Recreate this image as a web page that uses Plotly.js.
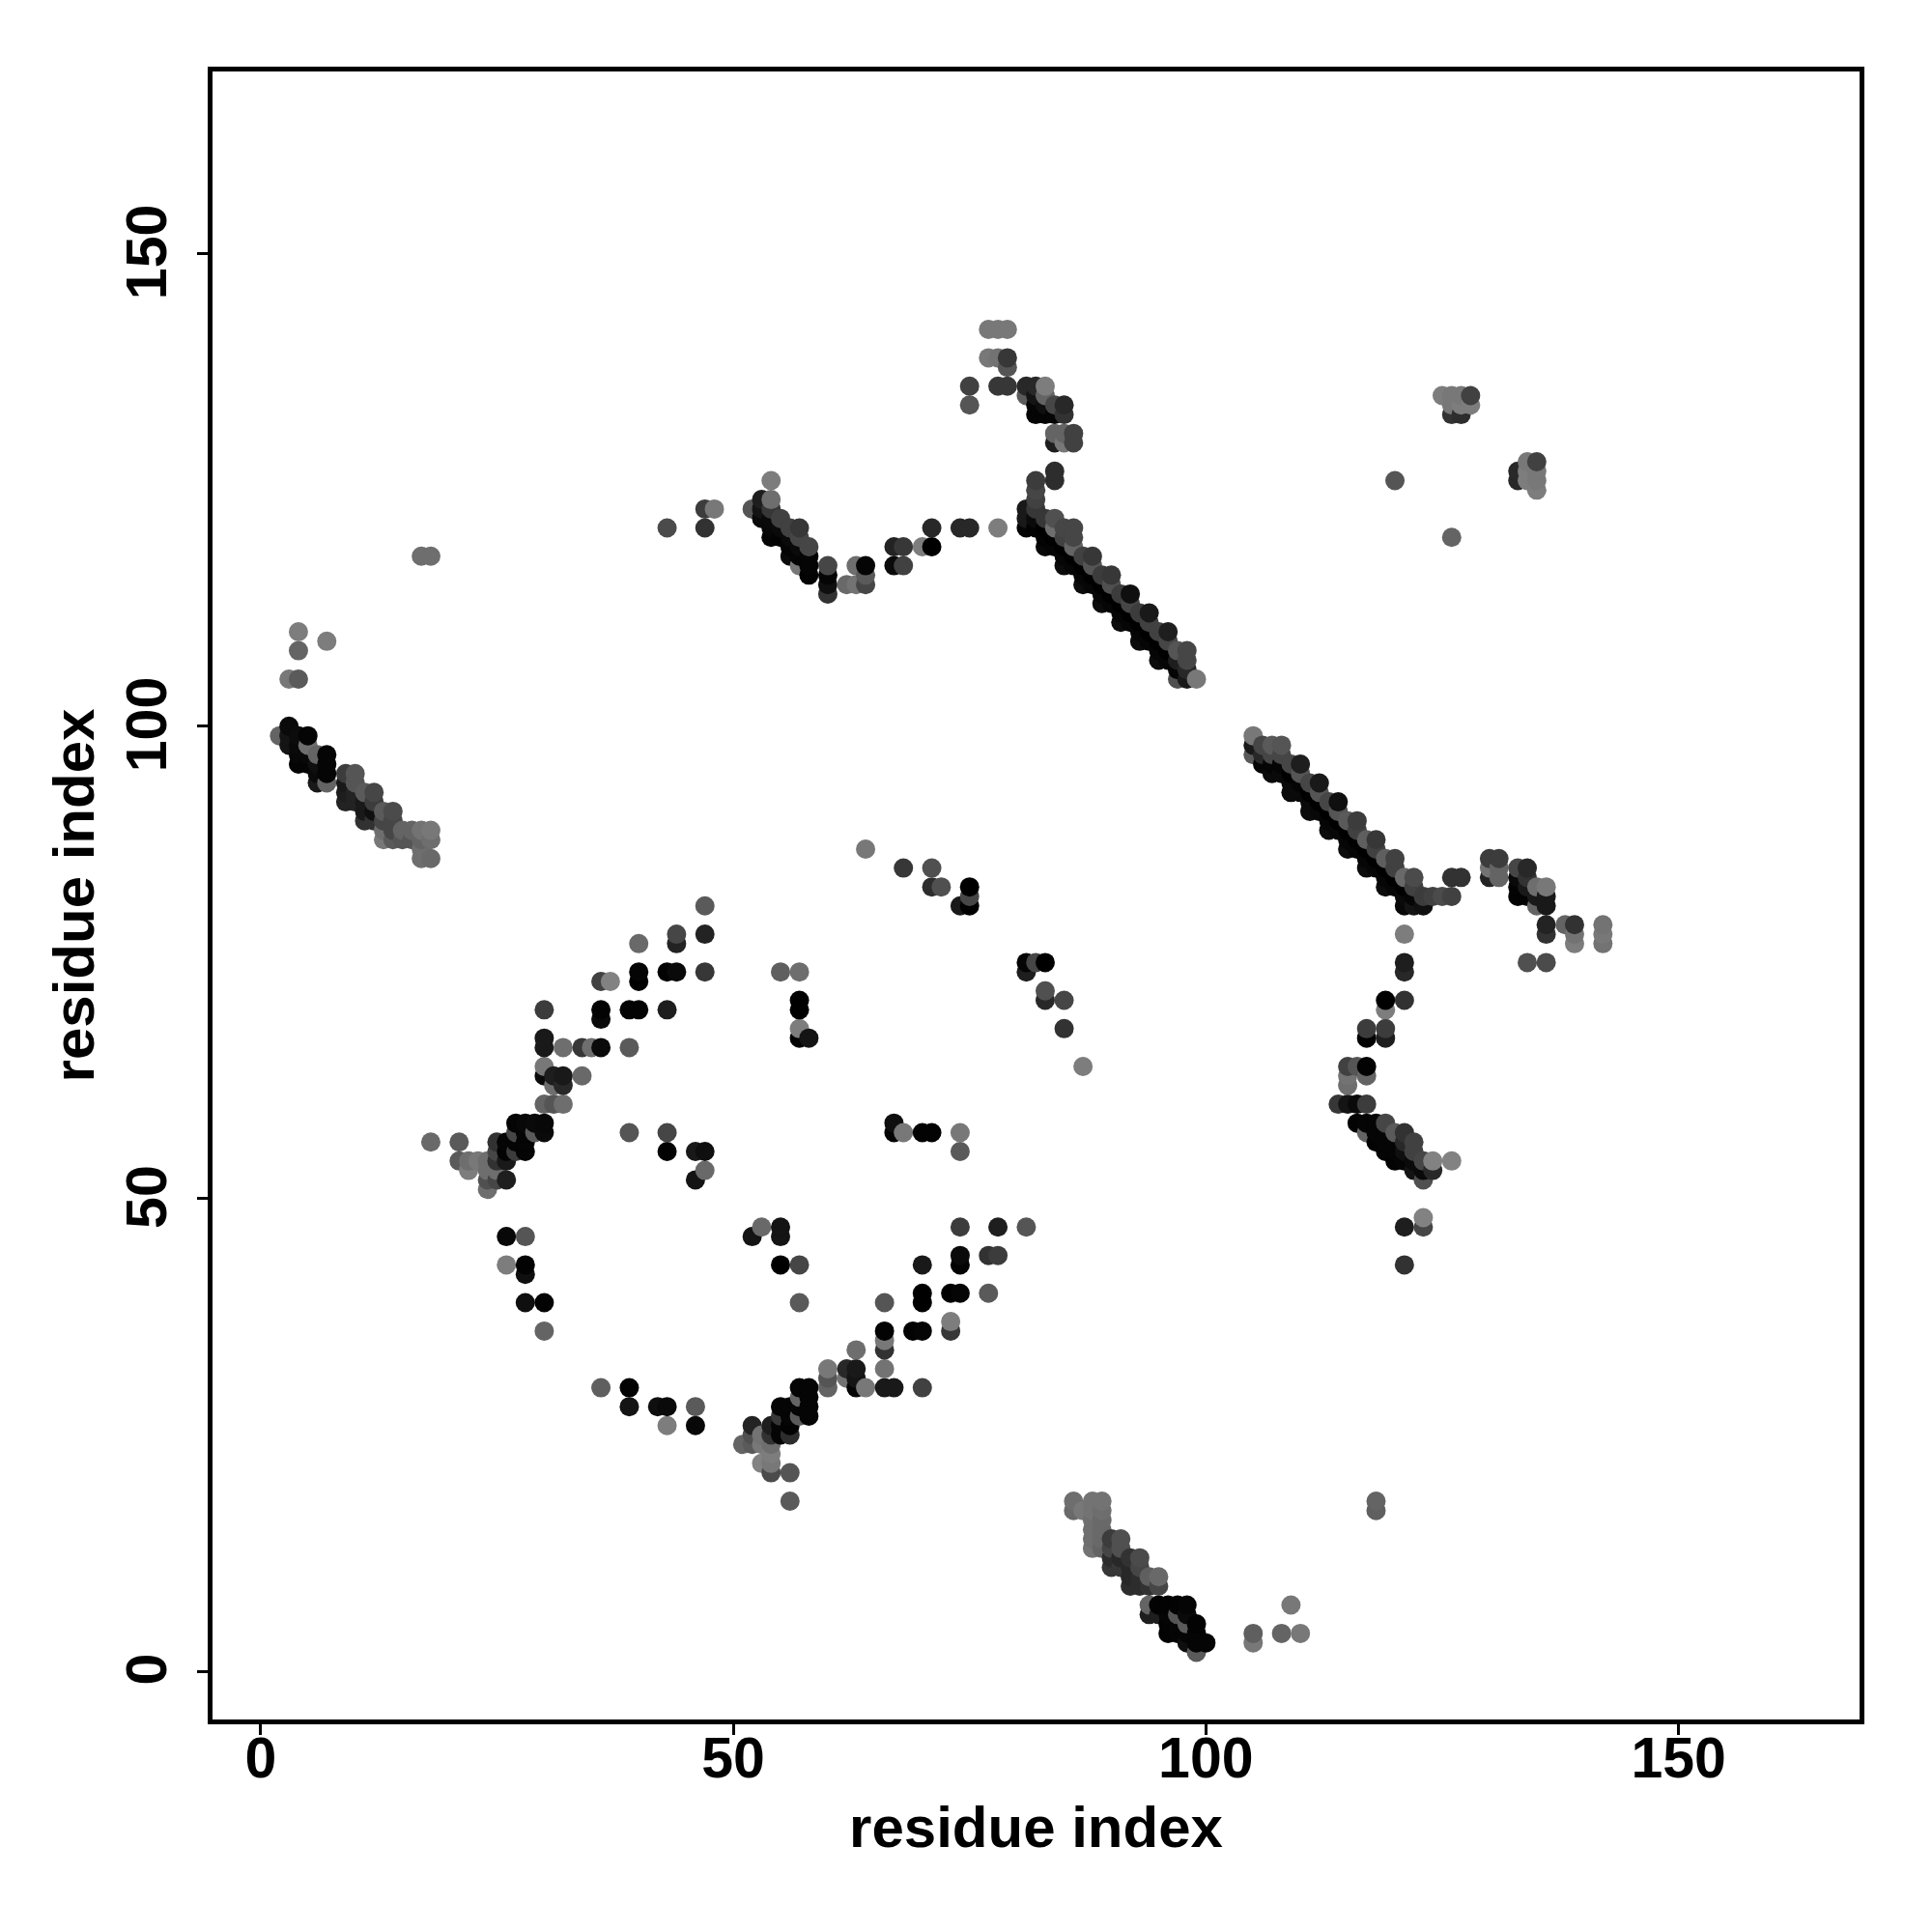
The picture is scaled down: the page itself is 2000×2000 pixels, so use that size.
<!DOCTYPE html>
<html>
<head>
<meta charset="utf-8">
<script src="https://cdn.plot.ly/plotly-3.0.1.min.js"></script>
<style>html,body{margin:0;padding:0;background:#fff}</style>
</head>
<body>
<div id="chart" style="width:2000px;height:2000px"></div>
<script>
// Each row: [residue x, [residue y, grey level, residue y, grey level, ...]]
const tickValues = [0, 50, 100, 150];
const axisLabel = "residue index";

const leftArc = [
[2,[99,100]],[3,[98,20,99,20,100,10,105,120]],[4,[96,5,97,8,98,10,99,12,105,90,108,100,110,125]],
[5,[96,5,97,8,98,110,99,5]],[6,[94,25,95,10,96,15,97,100]],[7,[94,100,95,5,96,5,97,5,109,125]],
[9,[92,35,93,30,94,25,95,60]],[10,[92,35,93,35,94,85,95,85]],[11,[90,50,91,25,92,25,93,90]],
[12,[90,50,91,15,92,60,93,70]],[13,[88,120,89,110,90,70,91,90]],[14,[88,90,89,70,90,70,91,75]],
[15,[88,85,89,100]],[16,[88,85,89,100]],[17,[86,110,87,110,88,100,89,115,118,110]],[18,[86,105,88,110,89,120,118,110]]
];
const lowerLeftFan = [
[18,[56,105]],[21,[54,90,56,90]],[22,[53,125,54,110]],[23,[54,120]],[24,[51,110,52,80,53,110,54,110]],
[25,[52,70,53,110,54,50,55,70,56,50]],[26,[43,125,46,8,52,30,54,25,55,3,56,5]],[27,[55,60,56,5,57,70,58,5]],
[28,[39,15,42,15,43,3,46,85,55,5,56,5,57,5,58,8]],[29,[57,90,58,10]],[30,[36,100,39,3,57,10,58,8,60,100,63,10,64,120,66,25,67,25,70,60]],
[31,[60,85,62,110,63,30]],[32,[60,110,62,40,63,25,66,110]],[34,[63,105,66,55]],[35,[66,110]],
[36,[30,95,66,10,69,10,70,3,73,65]],[37,[73,130]],[39,[28,20,30,3,57,85,66,90,70,3]],[40,[70,3,73,0,74,5,77,105]],
[42,[28,15]],[43,[26,125,28,10,55,3,57,70,70,30,74,3]],[44,[74,10,77,35,78,70]],[46,[26,8,28,90,52,20,55,25]],
[47,[53,105,55,15,74,55,78,35,81,90]]
];
const centralBits = [
[51,[24,100]],[52,[24,90,25,80,26,35,46,20]],[53,[22,130,24,120,25,115,47,105]],
[54,[21,75,22,120,23,125,24,110,25,50,26,30]],[55,[25,5,26,5,27,55,28,5,43,0,46,20,47,20,74,95]],
[56,[18,90,21,85,25,45,26,3,27,5,28,5]],
[57,[27,90,28,5,29,100,30,5,39,90,43,70,67,0,68,125,70,0,71,0,74,110]],[58,[27,5,28,5,29,5,30,5,67,20]],
[60,[30,100,31,85,32,120]],[62,[31,115,32,40]],[63,[30,5,31,20,32,25,34,110]],[64,[30,120,87,120]],
[66,[30,25,32,115,34,50,35,120,36,3,39,85]],[67,[30,25,57,3,58,15]],[68,[57,120,85,55]],[69,[36,3]],
[70,[30,65,36,5,39,0,40,0,43,25,57,3]],[71,[57,3,83,45,85,80]],[72,[83,80]],[73,[36,55,37,125,40,0]],
[74,[40,5,43,3,44,10,47,60,55,90,57,120,81,25]],[75,[81,0,82,70,83,0]],[77,[40,90,44,50]],[78,[44,60,47,30]],
[81,[47,85,74,30,75,5]],[82,[75,70]],[83,[71,40,72,80,75,0]],[85,[68,50,71,70]],[87,[64,125]]
];
const upperStrand = [
[43,[121,75]],[47,[121,50,123,60]],[48,[123,120]],[52,[123,85]],[53,[122,10,123,20,124,30]],
[54,[120,5,121,8,122,10,123,55,124,110,126,125]],[55,[120,3,121,10,122,65]],
[56,[118,10,119,5,120,10,121,65]],[57,[117,120,118,5,119,10,120,70,121,55]],[58,[116,3,117,5,118,5,119,70]],
[60,[114,50,115,15,116,5,117,70]],[62,[115,105]],[63,[115,115,117,110]],[64,[115,70,116,90,117,5]],
[67,[117,10,119,35]],[68,[117,65,119,55]],[70,[119,125]],[71,[119,0,121,40]],[74,[121,40]],[75,[121,40]],[78,[121,125]]
];
const topHook = [
[75,[134,85,136,65]],[77,[139,120,142,120]],[78,[136,55,139,115,142,120]],[79,[136,55,138,85,139,55,142,120]],
[81,[121,5,122,25,123,25,135,90,136,40]],[82,[121,3,122,10,123,55,124,65,125,70,126,60,133,5,134,5,135,20,136,40]],
[83,[133,5,134,15,135,100,136,125]],[84,[126,45,127,45,130,30,131,100,133,5,134,70]],
[85,[130,120,131,100,133,50,134,40]],[86,[130,65,131,65]]
];
const upperBand = [
[83,[119,8,120,3,121,0,122,55]],[84,[119,5,120,0,121,110,122,80]],[85,[117,12,118,6,119,0,120,65,121,70]],
[86,[117,6,118,0,119,100,120,70,121,70]],[87,[115,12,116,6,117,0,118,65]],[88,[115,6,116,0,117,85,118,55]],
[89,[113,12,114,6,115,0,116,60]],[90,[113,6,114,0,115,80,116,55]],[91,[111,12,112,6,113,0,114,60]],
[92,[111,6,112,0,113,70,114,15]],[93,[109,12,110,6,111,0,112,60]],[94,[109,6,110,0,111,65,112,25]],
[95,[107,12,108,6,109,0,110,65]],[96,[107,6,108,0,109,70,110,30]],[97,[105,80,106,5,107,30,108,85]],
[98,[105,25,106,40,107,70,108,70]],[99,[105,120]]
];
const lowerBand = [
[105,[3,120,4,95,97,90,98,25,99,120]],[106,[96,5,97,40,98,70]],[107,[95,10,96,5,97,70,98,90]],[108,[4,100,95,10,96,5,97,70,98,85]],
[109,[7,120,93,10,94,10,95,0,96,70]],[110,[4,120,93,10,94,5,95,85,96,30]],[111,[91,12,92,10,93,0,94,70]],
[112,[91,8,92,0,93,85,94,25]],[113,[89,12,90,6,91,0,92,70]],[114,[89,8,90,0,91,85,92,15]],[115,[87,12,88,6,89,0,90,90]],
[116,[87,6,88,0,89,65,90,60]],[117,[85,12,86,6,87,0,88,95]],[118,[17,95,18,100,85,6,86,0,87,65,88,55]],[119,[83,12,84,6,85,0,86,95]],
[120,[83,6,84,0,85,65,86,65,126,85]],[121,[81,8,82,10,83,0,84,105]],[122,[81,20,82,5,83,65,84,75]],[123,[81,15,82,60]],
[124,[82,65]],[125,[82,75]],[126,[82,65,84,50]],[127,[84,50]]
];
const rightArm = [
[114,[60,55]],[115,[60,20,62,110,63,115,64,65]],[116,[58,3,60,10,64,85]],[117,[57,100,58,5,60,60,63,100,64,3,67,3,68,60]],
[118,[56,3,57,5,58,5]],[119,[55,5,56,5,57,5,58,70,67,30,68,60,70,125,71,0]],[120,[54,3,55,5,56,5,57,90]],
[121,[43,50,47,30,54,5,55,15,56,40,57,50,71,50,74,40,75,30,78,125]],[122,[53,20,54,10,55,65,56,65]],
[123,[47,70,48,130,52,80,53,10,54,70]],[124,[53,40,54,130]],[126,[54,130,120,100,133,50,134,120,135,120]],
[125,[135,125]],[127,[133,45,134,125,135,120]],[128,[134,125,135,65]],
[130,[84,35,85,115,86,60]],[131,[84,100,85,100,86,60]],[133,[82,3,83,3,84,10,85,70,126,40,127,40]],
[134,[75,80,82,3,83,25,84,50,85,40,126,125,127,125,128,120]],[135,[81,100,82,25,83,110,125,125,126,120,127,120,128,65]],
[136,[75,75,78,50,79,35,81,25,82,25,83,120]],[138,[79,100]],[139,[77,125,78,115,79,50]],[142,[77,115,78,120,79,115]]
];
const lowerDiagonal = [
[86,[17,105,18,110]],[87,[17,120]],[88,[13,115,14,110,15,110,16,110,17,115,18,115]],[89,[13,100,14,105,15,105,16,105,17,110,18,115]],
[90,[11,55,12,45,13,70,14,60]],[91,[11,55,12,40,13,80,14,80]],[92,[9,45,10,40,11,40,12,50]],[93,[9,45,10,45,11,70,12,75]],
[94,[6,30,7,100,9,50,10,95]],[95,[6,30,7,3,9,70,10,105]],[96,[4,3,5,3,6,5,7,3]],[97,[4,5,5,5,6,85,7,3]],
[98,[3,15,4,5,5,90,6,10,7,5]],[99,[2,90,3,5,4,5,5,3]],[100,[3,5]]
];

const clusters = [leftArc, lowerLeftFan, centralBits, upperStrand, topHook, upperBand, lowerBand, rightArm, lowerDiagonal];
const pts = [];
clusters.forEach(function (cl) {
  cl.forEach(function (row) {
    for (let i = 0; i < row[1].length; i += 2) pts.push([row[0], row[1][i], row[1][i + 1]]);
  });
});
pts.sort(function (a, b) { return a[0] - b[0] || a[1] - b[1]; });

const tickFont = {family: '"Liberation Sans", Arial, sans-serif', size: 59, color: '#000', weight: 700};
const titleFont = {family: '"Liberation Sans", Arial, sans-serif', size: 60, color: '#000', weight: 700};
function axis(range, angle, standoff, labelStandoff, labelShift) {
  return {
    range: range, tickvals: tickValues, ticktext: tickValues.map(function (v) { return '<b>' + v + '</b>'; }),
    tickmode: 'array', tickangle: angle, tickfont: tickFont, ticks: 'outside', ticklen: 11, tickwidth: 3, tickcolor: '#000',
    ticklabelstandoff: labelStandoff, ticklabelshift: labelShift,
    showgrid: false, zeroline: false, showline: true, linecolor: '#000', linewidth: 5, mirror: true, automargin: false,
    title: {text: '<b>' + axisLabel + '</b>', font: titleFont, standoff: standoff}
  };
}
Plotly.newPlot('chart', [{
  type: 'scatter', mode: 'markers',
  x: pts.map(function (p) { return p[0]; }),
  y: pts.map(function (p) { return p[1]; }),
  marker: {size: 20, line: {width: 0}, color: pts.map(function (p) { return 'rgb(' + p[2] + ',' + p[2] + ',' + p[2] + ')'; })},
  hoverinfo: 'x+y'
}], {
  width: 2000, height: 2000, showlegend: false,
  paper_bgcolor: '#fff', plot_bgcolor: '#fff',
  margin: {l: 220, r: 75, t: 74, b: 220, pad: 0},
  xaxis: axis([-5.09, 169.15], 0, 20, -27, 0),
  yaxis: axis([-5.11, 169.3], -90, 4, 8, 7)
}, {displayModeBar: false, staticPlot: true});
</script>
</body>
</html>
